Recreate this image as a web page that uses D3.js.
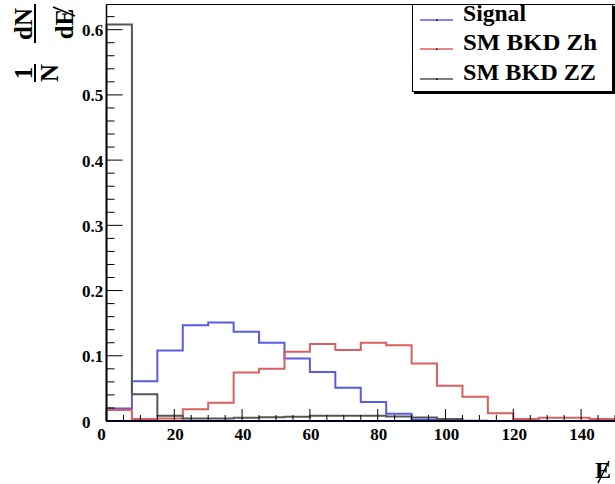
<!DOCTYPE html>
<html><head><meta charset="utf-8">
<script src="https://cdn.jsdelivr.net/npm/d3@7"></script>
<style>
html,body{margin:0;padding:0;background:#fff;}
svg{display:block;}
text{font-family:"Liberation Serif","Times New Roman",serif;font-weight:bold;fill:#000;}
</style></head>
<body>
<svg id="c" width="615" height="484"></svg>
<script>
// ---- data ----
const binLow = [0,7.5,15,22.5,30,37.5,45,52.5,60,67.5,75,82.5,90,97.5,105,112.5,120,127.5,135,142.5];
const binWidth = 7.5;
const signal = [0.019,0.061,0.108,0.147,0.151,0.137,0.120,0.096,0.075,0.051,0.029,0.011,0.002,0,0,0,0,0,0,0];
const smZh   = [0.017,0.003,0.004,0.018,0.028,0.0745,0.080,0.106,0.118,0.109,0.120,0.116,0.088,0.054,0.037,0.012,0.003,0.005,0.005,0.003];
const smZZ   = [0.608,0.041,0.008,0.004,0.004,0.005,0.0057,0.0066,0.008,0.008,0.008,0.007,0.0055,0.003,0.0005,0,0,0,0,0];
const seriesNames = ["Signal","SM BKD Zh","SM BKD ZZ"];
const seriesColors = ["#5a5ae3","#db5f5f","#555555"];
const xTicks = [0,20,40,60,80,100,120,140];
const yTicks = [0,0.1,0.2,0.3,0.4,0.5,0.6];

const svg = d3.select("#c");
const x = d3.scaleLinear().domain([0,150]).range([106.5,615]);
const y = d3.scaleLinear().domain([0,0.6386]).range([421,4.5]);

// frame
svg.append("line").attr("x1",106.5).attr("x2",615).attr("y1",4.5).attr("y2",4.5).attr("stroke","#000").attr("stroke-width",1);

// histograms
const allSeries = [signal, smZh, smZZ];
allSeries.forEach((vals,si)=>{
  const pts = [[binLow[0],0]];
  vals.forEach((v,i)=>{ pts.push([binLow[i],v]); pts.push([binLow[i]+binWidth,v]); });
  pts.push([binLow[binLow.length-1]+binWidth,0]);
  const line = d3.line().x(d=>x(d[0])).y(d=>y(d[1]));
  svg.append("path").attr("d",line(pts)).attr("fill","none")
    .attr("stroke",seriesColors[si]).attr("stroke-width",2);
});

// x axis ticks (upward)
const gx = svg.append("g");
d3.range(0,151,5).forEach(t=>{
  const major = t%20===0;
  gx.append("line").attr("x1",x(t)).attr("x2",x(t)).attr("y1",421).attr("y2",421-(major?12:6))
    .attr("stroke","#000").attr("stroke-width",1);
});
xTicks.forEach(t=>{
  gx.append("text").attr("x",x(t)+(t===0?-5:1)).attr("y",440).attr("text-anchor","middle")
    .style("font-size","17px").text(t);
});
// y axis ticks (rightward)
const gy = svg.append("g");
d3.range(0,32).forEach(k=>{
  const t = k*0.02; if (t>0.6386) return;
  const major = k%5===0;
  gy.append("line").attr("x1",106.5).attr("x2",106.5+(major?16:8)).attr("y1",y(t)).attr("y2",y(t))
    .attr("stroke","#000").attr("stroke-width",1);
});
yTicks.forEach(t=>{
  gy.append("text").attr("x",82).attr("y",y(t)+6.5).attr("text-anchor","start")
    .style("font-size","17px").text(t===0?"0":d3.format(".1f")(t));
});
// axis lines
svg.append("line").attr("x1",106.5).attr("x2",106.5).attr("y1",4.5).attr("y2",421).attr("stroke","#000").attr("stroke-width",1.5);
svg.append("line").attr("x1",106).attr("x2",615).attr("y1",421).attr("y2",421).attr("stroke","#000022").attr("stroke-width",2);

// x title: E with slash
const xt = svg.append("g");
xt.append("text").attr("x",595).attr("y",478).style("font-size","24px").text("E");
xt.append("line").attr("x1",609).attr("y1",461).attr("x2",598).attr("y2",483).attr("stroke","#000").attr("stroke-width",1.6);

// y title: (1/N) (dN/dE-slash), rotated
const yt = svg.append("g").attr("transform","translate(36,82) rotate(-90)");
yt.append("text").attr("x",9).attr("y",-4).attr("text-anchor","middle").style("font-size","25px").text("1");
yt.append("line").attr("x1",0).attr("x2",18).attr("y1",-1).attr("y2",-1).attr("stroke","#000").attr("stroke-width",2);
yt.append("text").attr("x",9).attr("y",22).attr("text-anchor","middle").style("font-size","25px").text("N");
yt.append("text").attr("x",58).attr("y",-4).attr("text-anchor","middle").style("font-size","25px").text("dN");
yt.append("line").attr("x1",39).attr("x2",78).attr("y1",-1).attr("y2",-1).attr("stroke","#000").attr("stroke-width",2);
yt.append("text").attr("x",58).attr("y",37).attr("text-anchor","middle").style("font-size","25px").text("dE");
yt.append("line").attr("x1",75).attr("y1",17).attr("x2",66).attr("y2",39).attr("stroke","#000").attr("stroke-width",1.6);

// legend
const lg = svg.append("g");
lg.append("rect").attr("x",414).attr("y",6).attr("width",201).attr("height",88).attr("fill","#000");
lg.append("rect").attr("x",412.5).attr("y",4.5).attr("width",200).attr("height",87).attr("fill","#fff").attr("stroke","#000").attr("stroke-width",1);
const rowsY = [20,49,79];
const textLens = [63,134,133];
seriesNames.forEach((n,i)=>{
  lg.append("line").attr("x1",420).attr("x2",453).attr("y1",rowsY[i]).attr("y2",rowsY[i])
    .attr("stroke",seriesColors[i]).attr("stroke-width",1.5);
  lg.append("rect").attr("x",436).attr("y",rowsY[i]-0.5).attr("width",1.5).attr("height",1.5).attr("fill","#000");
  lg.append("text").attr("x",463).attr("y",rowsY[i]+1).style("font-size","23px")
    .attr("textLength",textLens[i]).attr("lengthAdjust","spacingAndGlyphs").text(n);
});
</script>
</body></html>
